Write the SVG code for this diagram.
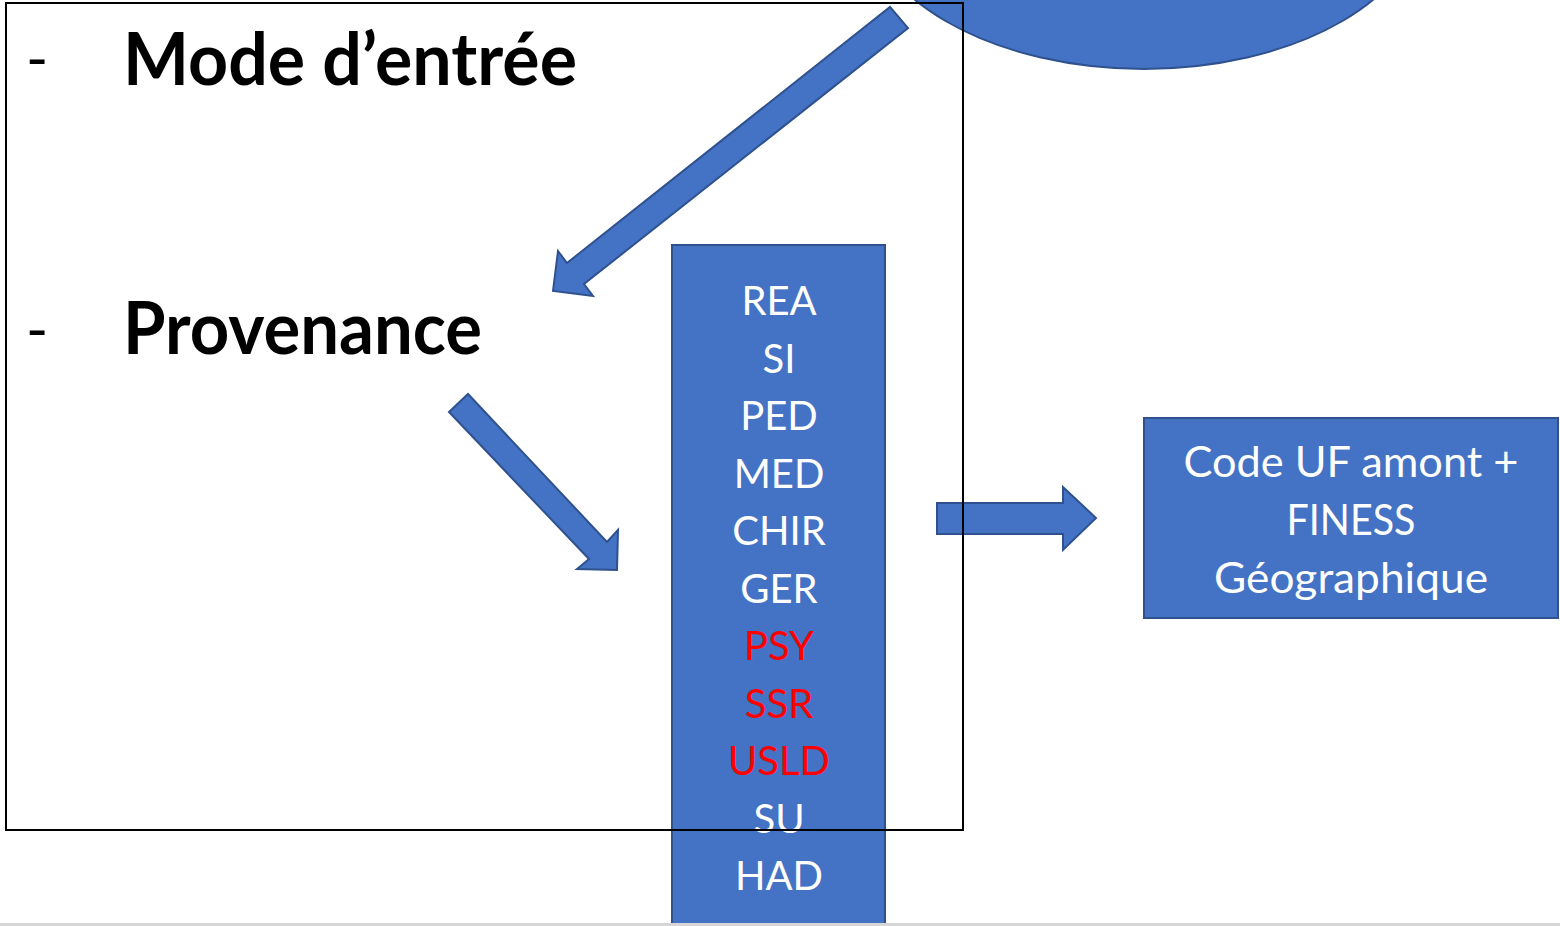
<svg xmlns="http://www.w3.org/2000/svg" width="1560" height="926" viewBox="0 0 1560 926">
<style>
.blue{fill:#4472C4;stroke:#2F528F;stroke-width:2}
.title{font-family:Lato,"Liberation Sans",sans-serif;font-weight:bold;font-size:72px;fill:#000}
.dash{font-family:Lato,"Liberation Sans",sans-serif;font-size:60px;fill:#000}
.col{font-family:Lato,"Liberation Sans",sans-serif;font-size:40px;fill:#fff;text-anchor:middle}
.red{fill:#FF0000}
.box{font-family:Lato,"Liberation Sans",sans-serif;font-size:42px;fill:#fff;text-anchor:middle}
</style>
<rect width="1560" height="926" fill="#fff"/>
<g id="ellipse-node">
<ellipse class="blue" cx="1144" cy="-94" rx="280" ry="163"/>
</g>
<g id="list-node">
<rect class="blue" x="672" y="245" width="213" height="700"/>
<text class="col" x="779" y="315">REA</text>
<text class="col" x="779" y="372.5">SI</text>
<text class="col" x="779" y="430">PED</text>
<text class="col" x="779" y="487.5">MED</text>
<text class="col" x="779" y="545">CHIR</text>
<text class="col" x="779" y="602.5">GER</text>
<text class="col red" x="779" y="660">PSY</text>
<text class="col red" x="779" y="717.5">SSR</text>
<text class="col red" x="779" y="775">USLD</text>
<text class="col" x="779" y="832.5">SU</text>
<text class="col" x="779" y="890">HAD</text>
</g>
<g id="code-node">
<rect class="blue" x="1144" y="418" width="414" height="200"/>
<text class="box" x="1351" y="477" textLength="335" lengthAdjust="spacingAndGlyphs">Code UF amont +</text>
<text class="box" x="1351" y="535" textLength="129" lengthAdjust="spacingAndGlyphs">FINESS</text>
<text class="box" x="1351" y="593" textLength="274" lengthAdjust="spacingAndGlyphs">Géographique</text>
</g>
<g id="connectors">
<polygon class="blue" points="890,7 908,28 584,284 593,296 553,291 558,251 567,263"/>
<polygon class="blue" points="449,412 468,394 607,542 618,530 617,570 577,569 589,559"/>
<polygon class="blue" points="937,503 1063,503 1063,487 1096,518 1063,550 1063,534 937,534"/>
</g>
<g id="frame-node">
<rect x="6" y="3" width="957" height="827" fill="none" stroke="#000" stroke-width="2"/>
<text class="dash" x="26" y="80">-</text>
<text class="title" x="123" y="85" textLength="454" lengthAdjust="spacingAndGlyphs">Mode d’entrée</text>
<text class="dash" x="26" y="351">-</text>
<text class="title" x="123" y="354" textLength="359" lengthAdjust="spacingAndGlyphs">Provenance</text>
</g>
<rect x="0" y="923" width="1560" height="3" fill="#d6d6d6"/>
</svg>
